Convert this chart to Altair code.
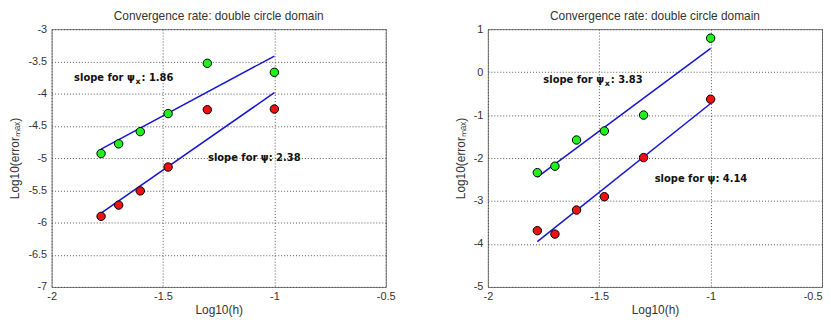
import altair as alt
import pandas as pd

# log10(h) for h = 1/60, 1/50, 1/40, 1/30, 1/20, 1/10
log_h = [-1.778, -1.699, -1.602, -1.477, -1.301, -1.0]

# left panel: log10(error_max)
left_psi_x = [-4.93, -4.78, -4.59, -4.31, -3.53, -3.67]
left_psi = [-5.905, -5.73, -5.51, -5.14, -4.25, -4.24]
left_note_head = ["slope for \u03c8", "slope for \u03c8: 2.38"]
left_note_sub = "x"
left_note_tail = ": 1.86"
left_note_x = [-1.899, -1.298]
left_note_y = [-3.76, -5.0]
left_yticks = [-7, -6.5, -6, -5.5, -5, -4.5, -4, -3.5, -3]

# right panel
right_psi_x = [-2.34, -2.19, -1.58, -1.37, -1.00, 0.79]
right_psi = [-3.69, -3.77, -3.21, -2.90, -1.99, -0.63]
right_note_head = ["slope for \u03c8", "slope for \u03c8: 4.14"]
right_note_sub = "x"
right_note_tail = ": 3.83"
right_note_x = [-1.751, -1.251]
right_note_y = [-0.19, -2.50]
right_yticks = [-5, -4, -3, -2, -1, 0, 1]

xticks = [-2, -1.5, -1, -0.5]
title_text = "Convergence rate: double circle domain"
x_title = "Log10(h)"
y_title = "Log10(error\u2098\u2090\u2093)"

FONT = "Liberation Sans"
NOTE_FONT = "DejaVu Sans"
W, H = 337, 260


def panel(psi_x, psi, head, sub, tail, nx, ny, ydom, yticks, last_right):
    df = pd.DataFrame({
        "x": log_h * 2,
        "y": psi_x + psi,
        "series": ["psi_x"] * len(log_h) + ["psi"] * len(log_h),
    })
    head_df = pd.DataFrame({"x": nx, "y": ny, "t": head})
    sub_df = pd.DataFrame({"x": nx[:1], "y": ny[:1], "t": [sub]})
    tail_df = pd.DataFrame({"x": nx[:1], "y": ny[:1], "t": [tail]})
    xs = alt.Scale(domain=[-2, -0.5], nice=False, zero=False)
    ys = alt.Scale(domain=ydom, nice=False, zero=False)
    xkw = {}
    if last_right:
        xkw["labelAlign"] = {"expr": "datum.value == -0.5 ? 'right' : 'center'"}
    xax = alt.Axis(values=xticks, title=x_title, grid=True, ticks=False,
                   domain=False, labelPadding=4, titlePadding=3,
                   labelFlush=False, labelOverlap=False,
                   labelExpr="toString(datum.value)", **xkw)
    yax = alt.Axis(values=yticks, title=y_title, grid=True, ticks=False,
                   domain=False, labelPadding=5, titlePadding=6,
                   labelFlush=False, labelOverlap=False,
                   labelExpr="toString(datum.value)")
    X = alt.X("x:Q", scale=xs, axis=xax)
    Y = alt.Y("y:Q", scale=ys, axis=yax)
    base = alt.Chart(df)
    lines = base.transform_regression("x", "y", groupby=["series"]).mark_line(
        color="#1414d2", strokeWidth=1.5
    ).encode(x=X, y=Y, detail="series:N")
    pts = base.mark_point(filled=True, size=72, stroke="black", strokeWidth=1,
                          opacity=1, shape="circle").encode(
        x=X, y=Y,
        fill=alt.Color("series:N",
                       scale=alt.Scale(domain=["psi_x", "psi"],
                                       range=["#22ee22", "#ee1111"]),
                       legend=None),
    )
    tstyle = dict(align="left", baseline="middle", fontWeight="bold",
                  font=NOTE_FONT, color="#111111")
    t_head = alt.Chart(head_df).mark_text(fontSize=10, **tstyle).encode(
        x=X, y=Y, text="t:N")
    t_sub = alt.Chart(sub_df).mark_text(fontSize=8, dx=62, dy=4, **tstyle).encode(
        x=X, y=Y, text="t:N")
    t_tail = alt.Chart(tail_df).mark_text(fontSize=10, dx=68, **tstyle).encode(
        x=X, y=Y, text="t:N")
    return alt.layer(lines, pts, t_head, t_sub, t_tail).properties(
        width=W, height=H,
        title=alt.TitleParams(title_text, fontSize=12, fontWeight="normal",
                              font=FONT, color="#333333", offset=0),
    )


left = panel(left_psi_x, left_psi, left_note_head, left_note_sub, left_note_tail,
             left_note_x, left_note_y, [-7, -3], left_yticks, False)
right = panel(right_psi_x, right_psi, right_note_head, right_note_sub,
              right_note_tail, right_note_x, right_note_y, [-5, 1],
              right_yticks, True)

chart = alt.hconcat(left, right, spacing=103, bounds="flush").properties(
    padding={"left": 0, "top": 0, "right": 0, "bottom": 0}
).configure_view(
    stroke="#777777", strokeWidth=1
).configure_axis(
    labelFont=FONT, titleFont=FONT, labelFontSize=11, titleFontSize=12,
    labelColor="#333333", titleColor="#333333", titleFontWeight="normal",
    gridColor="#444444", gridDash=[1, 2], gridOpacity=0.9, gridWidth=1,
)

chart.save("out.html", embed_options={"renderer": "svg", "actions": False})
